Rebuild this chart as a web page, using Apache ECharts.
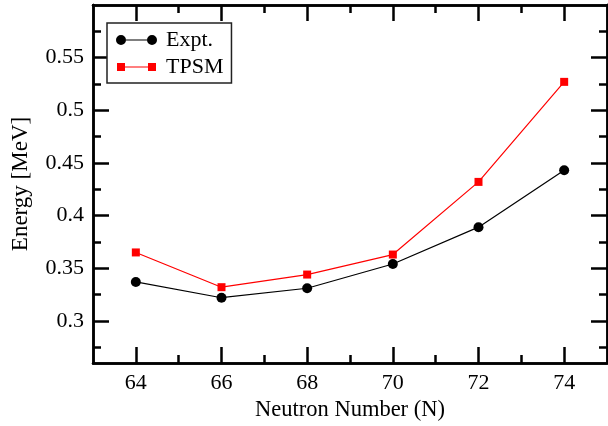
<!DOCTYPE html>
<html>
<head>
<meta charset="utf-8">
<script src="https://cdn.jsdelivr.net/npm/echarts@6/dist/echarts.min.js"></script>
<style>
  html, body { margin: 0; padding: 0; background: #fff; }
  #chart { width: 608px; height: 426px; }
</style>
</head>
<body>
<div id="chart"></div>
<script>
// Neutron numbers and 2+ energies (MeV)
const neutronNumbers = [64, 66, 68, 70, 72, 74];
const exptEnergy = [0.337, 0.322, 0.331, 0.354, 0.389, 0.443];
const tpsmEnergy = [0.365, 0.332, 0.344, 0.363, 0.432, 0.527];

// Axis ticks
const xMajorTicks = [64, 66, 68, 70, 72, 74];
const xMinorTicks = [65, 67, 69, 71, 73];
const yMajorTicks = [0.3, 0.35, 0.4, 0.45, 0.5, 0.55];
const yTickLabels = ['0.3', '0.35', '0.4', '0.45', '0.5', '0.55'];
const yMinorTicks = [0.275, 0.325, 0.375, 0.425, 0.475, 0.525, 0.575];

const FONT = "'Liberation Serif', 'DejaVu Serif', serif";
const AXIS_W = 2.5;
const X_RANGE = { min: 63, max: 75 };
const Y_RANGE = { min: 0.26, max: 0.6 };

function tickAxis(position, values, len, withLabels, extra) {
  return Object.assign({
    type: 'value',
    position: position,
    splitLine: { show: false },
    axisLine: { show: true, onZero: false, lineStyle: { color: '#000', width: AXIS_W } },
    axisTick: { show: true, inside: true, length: len, customValues: values,
                lineStyle: { color: '#000', width: AXIS_W } },
    axisLabel: { show: withLabels }
  }, extra);
}

const xAxes = [
  tickAxis('bottom', xMajorTicks, 16, true, Object.assign({
    axisLabel: { show: true, customValues: xMajorTicks, margin: 9,
                 color: '#000', fontFamily: FONT, fontSize: 22 },
    name: 'Neutron Number (N)', nameLocation: 'middle', nameGap: 33,
    nameTextStyle: { color: '#000', fontFamily: FONT, fontSize: 22.5 }
  }, X_RANGE)),
  tickAxis('bottom', xMinorTicks, 8, false, X_RANGE),
  tickAxis('top', xMajorTicks, 16, false, X_RANGE),
  tickAxis('top', xMinorTicks, 8, false, X_RANGE)
];

const yAxes = [
  tickAxis('left', yMajorTicks, 16, true, Object.assign({
    axisLabel: { show: true, customValues: yMajorTicks, margin: 9,
                 color: '#000', fontFamily: FONT, fontSize: 22,
                 formatter: v => yTickLabels[yMajorTicks.findIndex(t => Math.abs(t - v) < 1e-9)] },
    name: 'Energy [MeV]', nameLocation: 'middle', nameGap: 61,
    nameTextStyle: { color: '#000', fontFamily: FONT, fontSize: 23 }
  }, Y_RANGE)),
  tickAxis('left', yMinorTicks, 8, false, Y_RANGE),
  tickAxis('right', yMajorTicks, 16, false, Y_RANGE),
  tickAxis('right', yMinorTicks, 8, false, Y_RANGE)
];

// Legend glyphs: a short line with a marker at each end (41 x 10 box)
const circleIcon = 'path://M0 5A5 5 0 1 0 10 5A5 5 0 1 0 0 5Z' +
  'M31 5A5 5 0 1 0 41 5A5 5 0 1 0 31 5Z M10 4.4H31V5.6H10Z';
const squareIcon = 'path://M1 1H9V9H1Z M32 1H40V9H32Z M9 4.4H32V5.6H9Z' +
  'M20 0L20.01 0L20 0.01Z M20 10L20.01 10L20 9.99Z M0 5L0.01 5L0 5.01Z M41 5L40.99 5L41 5.01Z';

const option = {
  backgroundColor: '#fff',
  animation: false,
  grid: { left: 93, right: 1, top: 5, bottom: 63, outerBoundsMode: 'none', containLabel: false },
  xAxis: xAxes,
  yAxis: yAxes,
  legend: {
    left: 107, top: 23,
    orient: 'vertical',
    padding: [6, 8, 5, 9],
    itemGap: 5,
    itemWidth: 41, itemHeight: 10,
    borderColor: '#222', borderWidth: 1.5,
    backgroundColor: '#fff',
    textStyle: { color: '#000', fontFamily: FONT, fontSize: 22, padding: [0, 0, 0, 4] },
    data: [
      { name: 'Expt.', icon: circleIcon, itemStyle: { color: '#000' } },
      { name: 'TPSM', icon: squareIcon, itemStyle: { color: '#ff0000' } }
    ]
  },
  series: [
    {
      name: 'Expt.', type: 'line',
      xAxisIndex: 0, yAxisIndex: 0,
      data: neutronNumbers.map((n, i) => [n, exptEnergy[i]]),
      symbol: 'circle', symbolSize: 10,
      itemStyle: { color: '#000' },
      lineStyle: { color: '#000', width: 1.2 }
    },
    {
      name: 'TPSM', type: 'line',
      xAxisIndex: 0, yAxisIndex: 0,
      data: neutronNumbers.map((n, i) => [n, tpsmEnergy[i]]),
      symbol: 'rect', symbolSize: 8,
      itemStyle: { color: '#ff0000' },
      lineStyle: { color: '#ff0000', width: 1.2 }
    }
  ]
};

const chart = echarts.init(document.getElementById('chart'), null, { renderer: 'canvas' });
chart.setOption(option);
</script>
</body>
</html>
